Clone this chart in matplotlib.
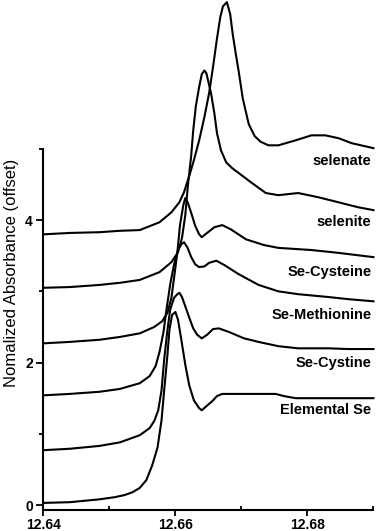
import matplotlib
matplotlib.use("Agg")
import matplotlib.pyplot as plt
from matplotlib.ticker import FixedLocator

plt.rcParams['font.family'] = ['Liberation Sans', 'DejaVu Sans']

# ---- data (energy in keV, normalized absorbance with offset) ----
elem_x = [12.6400, 12.6440, 12.6485, 12.6508, 12.6523, 12.6535, 12.6546, 12.6556, 12.6565,
          12.6573, 12.6579, 12.6583, 12.6588, 12.6591, 12.6595, 12.6600, 12.6604, 12.6609,
          12.6615, 12.6621, 12.6628, 12.6636, 12.6640, 12.6646, 12.6656, 12.6663, 12.6671,
          12.6711, 12.6752, 12.6764, 12.6782, 12.6832, 12.6900]
elem_y = [0.03, 0.04, 0.08, 0.11, 0.14, 0.18, 0.24, 0.35, 0.56,
          0.81, 1.19, 1.61, 2.11, 2.46, 2.67, 2.71, 2.60, 2.32,
          1.97, 1.68, 1.47, 1.36, 1.33, 1.38, 1.46, 1.53, 1.56,
          1.56, 1.56, 1.53, 1.50, 1.50, 1.50]

cystine_x = [12.6400, 12.6440, 12.6485, 12.6516, 12.6546, 12.6561, 12.6568, 12.6574, 12.6579,
             12.6583, 12.6588, 12.6592, 12.6598, 12.6603, 12.6606, 12.6610, 12.6615, 12.6621,
             12.6627, 12.6633, 12.6640, 12.6648, 12.6657, 12.6666, 12.6681, 12.6704, 12.6726,
             12.6756, 12.6786, 12.6832, 12.6862, 12.6900]
cystine_y = [0.77, 0.79, 0.83, 0.88, 0.98, 1.08, 1.18, 1.33, 1.61,
             2.04, 2.46, 2.74, 2.91, 2.96, 2.98, 2.92, 2.79, 2.63,
             2.48, 2.39, 2.34, 2.39, 2.47, 2.48, 2.43, 2.34, 2.29,
             2.23, 2.20, 2.20, 2.19, 2.19]

methionine_x = [12.6400, 12.6440, 12.6485, 12.6516, 12.6546, 12.6561, 12.6570, 12.6576, 12.6582,
                12.6586, 12.6592, 12.6598, 12.6604, 12.6609, 12.6613, 12.6618, 12.6624, 12.6630,
                12.6636, 12.6644, 12.6651, 12.6662, 12.6674, 12.6696, 12.6726, 12.6756, 12.6786,
                12.6832, 12.6862, 12.6900]
methionine_y = [1.54, 1.56, 1.59, 1.63, 1.71, 1.81, 1.95, 2.15, 2.43,
                2.71, 3.09, 3.38, 3.58, 3.66, 3.69, 3.62, 3.48, 3.38,
                3.34, 3.35, 3.40, 3.43, 3.37, 3.24, 3.09, 3.00, 2.96,
                2.92, 2.89, 2.86]

cysteine_x = [12.6400, 12.6440, 12.6485, 12.6516, 12.6546, 12.6568, 12.6580, 12.6588, 12.6594,
              12.6598, 12.6603, 12.6607, 12.6612, 12.6615, 12.6619, 12.6624, 12.6630, 12.6636,
              12.6640, 12.6648, 12.6659, 12.6671, 12.6684, 12.6707, 12.6734, 12.6756, 12.6806,
              12.6847, 12.6900]
cysteine_y = [2.27, 2.29, 2.32, 2.36, 2.41, 2.50, 2.58, 2.70, 2.91,
              3.19, 3.55, 3.93, 4.21, 4.31, 4.24, 4.10, 3.92, 3.80,
              3.76, 3.82, 3.90, 3.93, 3.87, 3.73, 3.65, 3.61, 3.58,
              3.54, 3.48]

selenite_x = [12.6400, 12.6440, 12.6485, 12.6516, 12.6546, 12.6576, 12.6594, 12.6604, 12.6610,
              12.6615, 12.6619, 12.6624, 12.6627, 12.6631, 12.6636, 12.6640, 12.6644, 12.6647,
              12.6651, 12.6654, 12.6659, 12.6663, 12.6669, 12.6677, 12.6686, 12.6696, 12.6716,
              12.6737, 12.6756, 12.6786, 12.6817, 12.6847, 12.6877, 12.6900]
selenite_y = [3.05, 3.06, 3.09, 3.12, 3.16, 3.27, 3.41, 3.55, 3.75,
              4.07, 4.49, 4.91, 5.26, 5.60, 5.87, 6.05, 6.10, 6.06,
              5.90, 5.78, 5.50, 5.22, 4.98, 4.81, 4.73, 4.66, 4.52,
              4.38, 4.35, 4.38, 4.32, 4.25, 4.18, 4.14]

selenate_x = [12.6400, 12.6440, 12.6485, 12.6516, 12.6546, 12.6576, 12.6594, 12.6606, 12.6613,
              12.6621, 12.6628, 12.6636, 12.6644, 12.6651, 12.6657, 12.6663, 12.6668, 12.6672,
              12.6678, 12.6683, 12.6687, 12.6691, 12.6696, 12.6702, 12.6711, 12.6720, 12.6729,
              12.6741, 12.6756, 12.6782, 12.6806, 12.6827, 12.6847, 12.6867, 12.6900]
selenate_y = [3.80, 3.82, 3.83, 3.85, 3.86, 3.97, 4.11, 4.25, 4.39,
              4.62, 4.84, 5.12, 5.45, 5.78, 6.15, 6.55, 6.85, 7.00,
              7.06, 6.89, 6.60, 6.36, 6.08, 5.71, 5.35, 5.18, 5.10,
              5.05, 5.05, 5.12, 5.19, 5.19, 5.15, 5.08, 5.01]

curve_names = ["selenate", "selenite", "Se-Cysteine", "Se-Methionine", "Se-Cystine", "Elemental Se"]
label_y = [4.83, 3.97, 3.27, 2.67, 2.00, 1.33]

x_ticks = [12.64, 12.66, 12.68]
x_ticklabels = ["12.64", "12.66", "12.68"]
y_ticks = [0, 2, 4]
y_ticklabels = ["0", "2", "4"]

# ---- figure ----
fig = plt.figure(figsize=(3.77, 5.31), dpi=100)
ax = fig.add_axes([0.1149, 0.0395, 0.8758, 0.9605])

series = [(selenate_x, selenate_y), (selenite_x, selenite_y), (cysteine_x, cysteine_y),
          (methionine_x, methionine_y), (cystine_x, cystine_y), (elem_x, elem_y)]
for xs, ys in series:
    ax.plot(xs, ys, color='black', lw=1.5, clip_on=False, solid_joinstyle='round')

ax.set_xlim(12.64, 12.69)
ax.set_ylim(-0.07, 7.09)

for name, ly in zip(curve_names, label_y):
    ax.text(12.6897, ly, name, ha='right', va='center', fontsize=10.5, fontweight='bold')

ax.spines['top'].set_visible(False)
ax.spines['right'].set_visible(False)
ax.spines['left'].set_bounds(-0.07, 5)
ax.spines['left'].set_linewidth(1.5)
ax.spines['bottom'].set_linewidth(1.5)

ax.set_xticks(x_ticks)
ax.set_xticklabels(x_ticklabels, fontsize=10, fontweight='bold')
ax.xaxis.set_minor_locator(FixedLocator([12.65, 12.67, 12.69]))
ax.set_yticks(y_ticks)
ax.set_yticklabels(y_ticklabels, fontsize=10, fontweight='bold')
ax.yaxis.set_minor_locator(FixedLocator([1, 3, 5]))

ax.tick_params(axis='x', which='major', direction='out', length=4, width=1.3, pad=1.5)
ax.tick_params(axis='x', which='minor', direction='in', length=3, width=1.3)
ax.tick_params(axis='y', which='major', direction='out', length=5, width=1.3, pad=2.5)
ax.tick_params(axis='y', which='minor', direction='out', length=3, width=1.3)

ax.set_ylabel("Nomalized Absorbance (offset)", fontsize=12)
ax.yaxis.set_label_coords(-0.075, 0.465)

fig.savefig("out.png", dpi=100)
